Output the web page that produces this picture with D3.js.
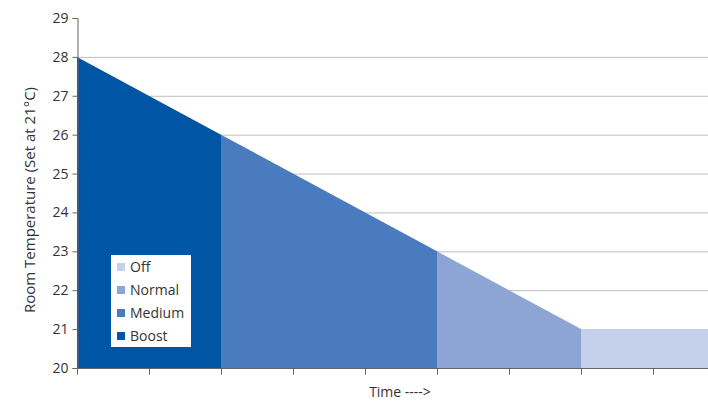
<!DOCTYPE html>
<html><head><meta charset="utf-8">
<script src="https://cdn.jsdelivr.net/npm/d3@7"></script>
<style>body{margin:0;background:#fff}svg{display:block}text{font-family:"Open Sans","DejaVu Sans",sans-serif;fill:#333}</style>
</head><body>
<svg id="c" width="708" height="403"></svg>
<script>
const modes = ["Boost","Medium","Normal","Off"];
const startTimes = [0,2,5,7];
const endTimes = [2,5,7,9];
const startTemps = [28,26,23,21];
const endTemps = [26,23,21,21];
const colors = ["#0055A5","#4A7BBE","#8DA5D5","#C5D0EA"];
const yTicks = [20,21,22,23,24,25,26,27,28,29];
const gridTicks = [21,22,23,24,25,26,27,28];
const majorX = [0,2,5,7];
const minorX = [1,3,4,6,8];
const legendOrder = ["Off","Normal","Medium","Boost"];

const svg = d3.select("#c");
const x = d3.scaleLinear().domain([0,9]).range([77,725]);
const y = d3.scaleLinear().domain([20,29]).range([368,18]);

svg.append("g").selectAll("line").data(gridTicks).join("line")
  .attr("x1",77).attr("x2",708).attr("y1",d=>y(d)+0.5).attr("y2",d=>y(d)+0.5)
  .attr("stroke","#BEBEBE").attr("stroke-width",1);

const area = d3.area().x(d=>x(d[0])).y0(y(20)).y1(d=>y(d[1]));
svg.append("g").selectAll("path").data(modes).join("path")
  .attr("d",(m,i)=>area([[startTimes[i],startTemps[i]],[endTimes[i],endTemps[i]]]))
  .attr("fill",(m,i)=>colors[i]);

// y axis
const ya = svg.append("g").attr("transform","translate(77.5,0)")
  .call(d3.axisLeft(y).tickValues(yTicks).tickSize(5).tickFormat(d3.format("d")));
ya.select(".domain").attr("stroke","#666");
ya.selectAll(".tick line").attr("stroke","#666");
ya.selectAll(".tick text").attr("font-size",14).attr("fill","#333").attr("x",-9);

// x axis
const xa = svg.append("g").attr("transform","translate(0,368.5)");
xa.append("line").attr("x1",77).attr("x2",708).attr("stroke","#666");
xa.selectAll("line.maj").data(majorX.concat(minorX)).join("line").attr("class","maj")
  .attr("x1",d=>Math.round(x(d))+0.5).attr("x2",d=>Math.round(x(d))+0.5)
  .attr("y1",0).attr("y2",6).attr("stroke","#666");

svg.append("text").attr("x",400).attr("y",397).attr("text-anchor","middle")
  .attr("font-size",14).text("Time ---->");
svg.append("text").attr("transform","translate(35,200) rotate(-90)")
  .attr("text-anchor","middle").attr("font-size",15).text("Room Temperature (Set at 21°C)");

// legend
const lg = svg.append("g");
lg.append("rect").attr("x",111).attr("y",255).attr("width",80).attr("height",92).attr("fill","#fff");
lg.selectAll("g.it").data(legendOrder).join("g").attr("class","it")
  .attr("transform",(d,i)=>`translate(117,${267+i*23})`)
  .each(function(d){
    const g = d3.select(this);
    g.append("rect").attr("x",0).attr("y",-4).attr("width",8).attr("height",8)
      .attr("fill",colors[modes.indexOf(d)]);
    g.append("text").attr("x",13).attr("y",5).attr("font-size",14).text(d);
  });
</script>
</body></html>
